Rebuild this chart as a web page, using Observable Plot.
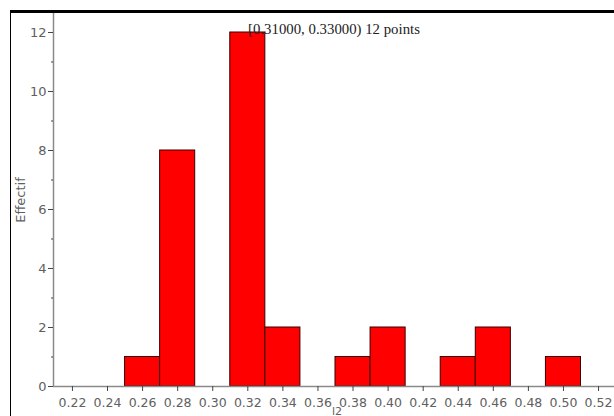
<!DOCTYPE html>
<html>
<head>
<meta charset="utf-8">
<script src="https://cdn.jsdelivr.net/npm/d3@7"></script>
<script src="https://cdn.jsdelivr.net/npm/@observablehq/plot@0.6"></script>
<style>
  html, body { margin: 0; padding: 0; background: #fff; }
  #wrap { position: relative; width: 614px; height: 416px; overflow: hidden; }
  #frame { position: absolute; left: 10px; top: 10px; right: -5px; bottom: -5px;
           border-top: 3px solid #000; border-left: 1px solid #000; pointer-events: none; }
</style>
</head>
<body>
<div id="wrap"><div id="frame"></div></div>
<script>
const binStarts = [0.25, 0.27, 0.29, 0.31, 0.33, 0.35, 0.37, 0.39, 0.41, 0.43, 0.45, 0.47, 0.49];
const counts    = [1,    8,    0,    12,   2,    0,    1,    2,    0,    1,    2,    0,    1];
const binWidth = 0.02;
const xTicks = [0.22, 0.24, 0.26, 0.28, 0.30, 0.32, 0.34, 0.36, 0.38, 0.40, 0.42, 0.44, 0.46, 0.48, 0.50, 0.52];
const yMajor = [0, 2, 4, 6, 8, 10, 12];
const yMinor = [1, 3, 5, 7, 9, 11];
const titleText = "[0.31000, 0.33000) 12 points";
const xLabel = "l2";
const yLabel = "Effectif";

const bins = binStarts.map((s, i) => ({x1: s, x2: s + binWidth, n: counts[i]})).filter(d => d.n > 0);

const axisColor = "#8a8a8a";
const textColor = "#606060";

const chart = Plot.plot({
  width: 614,
  height: 416,
  marginLeft: 53,
  marginRight: 0,
  marginTop: 13,
  marginBottom: 30,
  style: {fontFamily: "DejaVu Sans, sans-serif", fontSize: "12.5px", background: "transparent", overflow: "visible"},
  x: {type: "linear", domain: [0.2092, 0.5291]},
  y: {type: "linear", domain: [0, 12.644]},
  marks: [
    Plot.rectY(bins, {x1: "x1", x2: "x2", y: "n", fill: "#ff0000", stroke: "#3a0000", strokeWidth: 1}),
    Plot.ruleX([0.2092], {stroke: axisColor, strokeWidth: 1.5}),
    Plot.ruleY([0], {stroke: axisColor, strokeWidth: 1.5}),
    Plot.axisX({ticks: xTicks, tickFormat: d3.format(".2f"), tickSize: 5, tickPadding: 7,
                stroke: "#444", fill: textColor, label: null}),
    Plot.axisY({ticks: yMajor, tickSize: 5, tickPadding: 2, stroke: "#444", fill: textColor,
                label: yLabel, labelAnchor: "center", labelArrow: "none", labelOffset: 38,
                fontSize: 13}),
    Plot.axisY({ticks: yMinor, tickSize: 2, tickFormat: () => "", stroke: "#444", label: null}),
    Plot.text([xLabel], {frameAnchor: "bottom", dy: 28.5, dx: 3, fill: textColor, fontSize: 11}),
    Plot.text([titleText], {frameAnchor: "top", dy: 10, fill: "#222",
                            fontFamily: "Liberation Serif, serif", fontSize: 14.8})
  ]
});
document.getElementById("wrap").prepend(chart);
</script>
</body>
</html>
